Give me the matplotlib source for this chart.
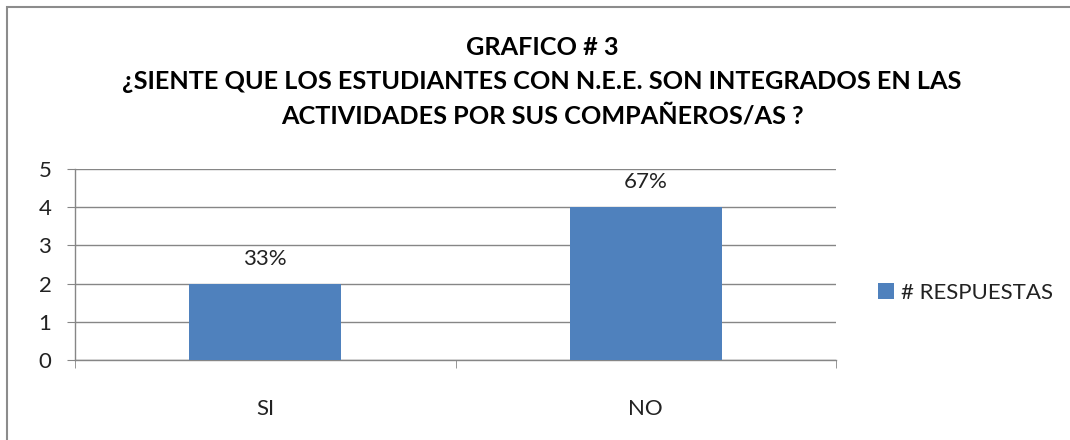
import matplotlib.pyplot as plt
from matplotlib.patches import Rectangle, Patch

# data
categories = ['SI', 'NO']
respuestas = [2, 4]
porcentajes = ['33%', '67%']
serie = '# RESPUESTAS'

title_lines = [
    'GRAFICO # 3',
    '¿SIENTE QUE LOS ESTUDIANTES CON N.E.E. SON INTEGRADOS EN LAS',
    'ACTIVIDADES POR SUS COMPAÑEROS/AS ?',
]

bar_color = '#4F81BD'
grid_color = '#868686'

plt.rcParams['font.family'] = ['Lato', 'DejaVu Sans']

W, H = 1070, 440
fig = plt.figure(figsize=(W / 100, H / 100), dpi=100)

# outer chart border (top and left visible, rest cropped)
fig.patches.append(Rectangle((7 / W, -0.1), 1.2, 1 - 7 / H + 0.1, transform=fig.transFigure,
                             fill=False, edgecolor='#8c8c8c', linewidth=1.5))

# title, one line at a time
for line, base in zip(title_lines, [55, 89, 124]):
    fig.text(542 / W, 1 - base / H, line, ha='center', va='baseline',
             fontsize=18.2, fontweight='bold', color='black')

ax = fig.add_axes([75 / W, 80 / H, (836 - 75) / W, (360 - 169) / H])
x = list(range(len(categories)))
ax.bar(x, respuestas, width=0.4, color=bar_color, zorder=3)

for xi, v, p in zip(x, respuestas, porcentajes):
    ax.annotate(p, (xi, v), xytext=(0, 13.5), textcoords='offset points',
                ha='center', va='baseline', fontsize=16, color='#222222')

ax.set_xlim(-0.5, 1.5)
ax.set_ylim(0, 5)
ax.set_yticks(range(6))
ax.yaxis.grid(True, color=grid_color, linewidth=1, zorder=0)
ax.set_xticks(x)
ax.set_xticklabels(categories, fontsize=16, color='#222222')
ax.set_xticks([-0.5, 0.5, 1.5], minor=True)
ax.tick_params(axis='x', which='major', length=0, pad=28)
ax.tick_params(axis='x', which='minor', length=6, color=grid_color, direction='out')
ax.tick_params(axis='y', length=6, color=grid_color, pad=11, labelsize=16, labelcolor='#222222')

for s in ['top', 'right']:
    ax.spines[s].set_visible(False)
for s in ['left', 'bottom']:
    ax.spines[s].set_color(grid_color)
    ax.spines[s].set_linewidth(1)

fig.legend(handles=[Patch(facecolor=bar_color, label=serie)], loc='center left',
           bbox_to_anchor=(858 / W, 1 - 293 / H), frameon=False, fontsize=16,
           handlelength=0.7, handleheight=0.7, handletextpad=0.35, labelcolor='#222222')

fig.savefig('out.png', dpi=100)
